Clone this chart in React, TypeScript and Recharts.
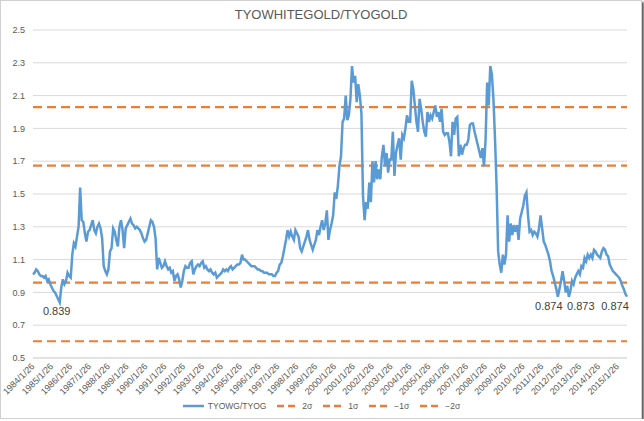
import { LineChart, Line, XAxis, YAxis, CartesianGrid, ReferenceLine, LabelList } from "recharts";

// monthly TYOWG/TYOG ratio, one row per year, starting 1984/1
const startYear = 1984;
const ratioByYear: number[][] = [
  [1.01, 1.02, 1.04, 1.03, 1.01, 1.0, 1.0, 0.99, 1.0, 0.97, 0.98, 0.95],
  [0.93, 0.91, 0.9, 0.88, 0.86, 0.839, 0.93, 0.98, 0.95, 0.97, 1.02, 1.0],
  [0.99, 1.13, 1.2, 1.18, 1.24, 1.3, 1.54, 1.34, 1.33, 1.26, 1.21, 1.27],
  [1.28, 1.31, 1.34, 1.28, 1.26, 1.3, 1.32, 1.29, 1.23, 1.06, 1.03, 1.01],
  [1.04, 1.15, 1.17, 1.29, 1.27, 1.22, 1.18, 1.3, 1.34, 1.28, 1.17, 1.29],
  [1.31, 1.33, 1.35, 1.32, 1.31, 1.29, 1.3, 1.29, 1.28, 1.26, 1.23, 1.21],
  [1.22, 1.26, 1.3, 1.34, 1.33, 1.3, 1.23, 1.04, 1.11, 1.08, 1.05, 1.06],
  [1.09, 1.06, 1.04, 1.05, 1.02, 1.03, 0.97, 1.0, 1.01, 0.98, 0.93, 0.97],
  [1.03, 1.06, 1.05, 1.05, 1.08, 1.09, 1.01, 1.04, 1.06, 1.07, 1.06, 1.08],
  [1.09, 1.05, 1.06, 1.04, 1.03, 1.04, 1.02, 1.01, 1.02, 0.99, 1.0, 1.01],
  [1.02, 1.04, 1.03, 1.04, 1.03, 1.05, 1.06, 1.04, 1.05, 1.06, 1.07, 1.07],
  [1.08, 1.13, 1.1, 1.1, 1.09, 1.08, 1.07, 1.06, 1.06, 1.06, 1.05, 1.04],
  [1.04, 1.03, 1.03, 1.02, 1.02, 1.02, 1.01, 1.01, 1.01, 1.0, 1.0, 1.02],
  [1.03, 1.07, 1.08, 1.12, 1.17, 1.22, 1.28, 1.24, 1.27, 1.24, 1.22, 1.28],
  [1.26, 1.24, 1.17, 1.15, 1.18, 1.21, 1.24, 1.28, 1.22, 1.19, 1.16, 1.19],
  [1.22, 1.28, 1.25, 1.3, 1.34, 1.28, 1.32, 1.4, 1.22, 1.28, 1.32, 1.37],
  [1.51, 1.47, 1.55, 1.67, 1.73, 1.94, 1.96, 2.1, 1.95, 1.98, 2.08, 2.28],
  [2.18, 2.22, 2.06, 2.17, 2.1, 1.99, 1.49, 1.34, 1.45, 1.41, 1.57, 1.45],
  [1.7, 1.57, 1.7, 1.59, 1.65, 1.59, 1.73, 1.8, 1.67, 1.75, 1.63, 1.71],
  [1.71, 1.88, 1.61, 1.75, 1.8, 1.84, 1.71, 1.86, 1.84, 1.9, 1.98, 1.94],
  [1.94, 2.19, 2.14, 2.04, 1.94, 1.88, 2.08, 2.02, 1.94, 1.88, 1.85, 2.0],
  [1.94, 1.98, 1.96, 2.0, 2.04, 1.97, 2.0, 1.94, 2.02, 1.88, 1.86, 1.87],
  [1.87, 1.82, 1.73, 1.94, 1.86, 1.96, 1.97, 1.73, 1.8, 1.74, 1.78, 1.8],
  [1.8, 1.83, 1.92, 1.93, 1.93, 1.88, 1.84, 1.8, 1.76, 1.72, 1.78, 1.67],
  [1.83, 2.18, 2.04, 2.28, 2.23, 2.08, 1.84, 1.55, 1.15, 1.07, 1.02, 1.13],
  [1.07, 1.13, 1.37, 1.21, 1.32, 1.25, 1.31, 1.27, 1.31, 1.22, 1.35, 1.39],
  [1.43, 1.49, 1.51, 1.37, 1.27, 1.28, 1.25, 1.27, 1.26, 1.24, 1.29, 1.37],
  [1.29, 1.21, 1.19, 1.16, 1.13, 1.09, 1.03, 1.0, 0.96, 0.92, 0.874, 0.92],
  [0.97, 1.03, 0.97, 0.9, 0.94, 0.873, 0.91, 0.97, 0.95, 0.99, 1.01, 1.03],
  [1.01, 1.06, 1.05, 1.11, 1.09, 1.13, 1.11, 1.13, 1.11, 1.16, 1.15, 1.13],
  [1.12, 1.11, 1.15, 1.17, 1.16, 1.13, 1.12, 1.07, 1.05, 1.03, 1.02, 1.01],
  [1.0, 0.99, 0.97, 0.94, 0.92, 0.89, 0.874],
];

const sigmaNames = ["2σ", "1σ", "−1σ", "−2σ"];
const sigmaLevels = [2.03, 1.673, 0.959, 0.602];
const yTicks = [0.5, 0.7, 0.9, 1.1, 1.3, 1.5, 1.7, 1.9, 2.1, 2.3, 2.5];
const labelledDates = ["1985/6/26", "2011/11/26", "2012/6/26", "2015/7/26"];

const labelShift = [-3, -9, 12, -12];
const BLUE = "#5B9BD5";
const ORANGE = "#ED7D31";
const FONT = "'Liberation Sans Narrow', 'Liberation Sans', Arial, sans-serif";

const data = ratioByYear.flatMap((row, i) =>
  row.map((v, m) => ({ date: `${startYear + i}/${m + 1}/26`, ratio: v }))
);

function DateTick({ x, y, payload }: any) {
  const ax = x + 2;
  const ay = y + 7;
  return (
    <text x={ax} y={ay} transform={`rotate(-45 ${ax} ${ay})`} textAnchor="end" fontSize={9} fill="#595959" fontFamily={FONT}>
      {payload.value}
    </text>
  );
}

function LowLabel(props: any) {
  const { x, y, value, index } = props;
  const k = labelledDates.indexOf(data[index]?.date);
  if (k < 0) return null;
  return (
    <text x={x + labelShift[k]} y={y + 13} textAnchor="middle" fontSize={11} fill="#404040" fontFamily={FONT}>
      {Number(value).toFixed(3)}
    </text>
  );
}

function LegendRow() {
  const items = [{ name: "TYOWG/TYOG", dashed: false }, ...sigmaNames.map((n) => ({ name: n, dashed: true }))];
  return (
    <div style={{ position: "absolute", left: 0, width: 640, top: 400, display: "flex", justifyContent: "center", gap: 10, fontFamily: FONT, fontSize: 8.5, color: "#595959" }}>
      {items.map((it) => (
        <div key={it.name} style={{ display: "flex", alignItems: "center", gap: 3 }}>
          <svg width={23} height={10}>
            <line x1={1} x2={22} y1={5} y2={5} stroke={it.dashed ? ORANGE : BLUE} strokeWidth={2.5} strokeDasharray={it.dashed ? "7 4" : undefined} />
          </svg>
          <span>{it.name}</span>
        </div>
      ))}
    </div>
  );
}

export default function App() {
  return (
    <div style={{ position: "relative", width: 642, height: 419, boxSizing: "border-box", border: "1px solid #d0d0d0", boxShadow: "2px 2px 2px rgba(0,0,0,0.65)", background: "#fff" }}>
      <style>{`body{margin:0}`}</style>
      <div style={{ position: "absolute", left: 0, width: 640, top: 6, textAlign: "center", fontFamily: FONT, fontSize: 13, color: "#595959" }}>
        TYOWHITEGOLD/TYOGOLD
      </div>
      <LineChart width={640} height={417} data={data} margin={{ top: 29, right: 14, bottom: 5, left: 4 }}>
        <CartesianGrid vertical={false} stroke="#d9d9d9" />
        <XAxis dataKey="date" interval={11} tickLine={false} tickSize={0} stroke="#d9d9d9" height={55} tick={<DateTick />} />
        <YAxis domain={[0.5, 2.5]} ticks={yTicks} width={28} axisLine={false} tickLine={false} tickFormatter={(v: number) => v.toFixed(1)} tick={{ fontSize: 9, fill: "#595959", fontFamily: FONT }} />
        {sigmaLevels.map((lv, i) => (
          <ReferenceLine key={sigmaNames[i]} y={lv} stroke={ORANGE} strokeWidth={2.2} strokeDasharray="9 5" />
        ))}
        <Line type="linear" dataKey="ratio" stroke={BLUE} strokeWidth={2.5} dot={false} isAnimationActive={false}>
          <LabelList dataKey="ratio" content={<LowLabel />} />
        </Line>
      </LineChart>
      <LegendRow />
    </div>
  );
}
